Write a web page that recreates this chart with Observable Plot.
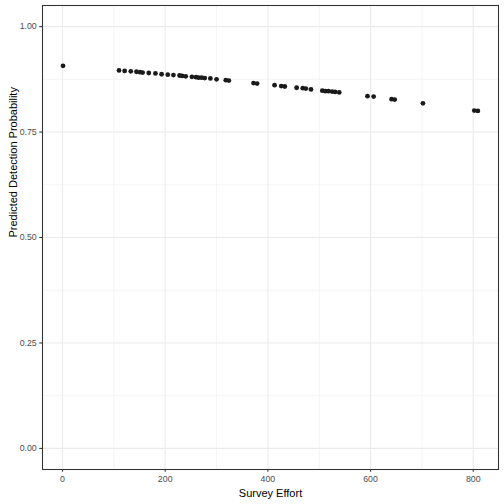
<!DOCTYPE html>
<html>
<head>
<meta charset="utf-8">
<script src="https://cdn.jsdelivr.net/npm/d3@7"></script>
<script src="https://cdn.jsdelivr.net/npm/@observablehq/plot@0.6"></script>
<style>
  html, body { margin: 0; padding: 0; background: #ffffff; }
  #chart { width: 504px; height: 504px; }
</style>
</head>
<body>
<div id="chart"></div>
<script>
const effort = [1, 110, 121, 133, 144, 151, 156, 168, 181, 193, 205, 216, 228, 233, 240, 252, 260, 265, 271, 277, 288, 300, 318, 324, 372, 379, 413, 426, 433, 456, 468, 474, 484, 506, 512, 518, 525, 531, 539, 594, 606, 641, 647, 702, 802, 809];
const prob = [0.907, 0.896, 0.895, 0.894, 0.893, 0.892, 0.891, 0.890, 0.889, 0.887, 0.886, 0.885, 0.884, 0.883, 0.882, 0.881, 0.880, 0.879, 0.879, 0.878, 0.877, 0.875, 0.873, 0.872, 0.866, 0.865, 0.861, 0.859, 0.858, 0.855, 0.854, 0.853, 0.851, 0.848, 0.847, 0.847, 0.846, 0.845, 0.844, 0.835, 0.834, 0.828, 0.827, 0.818, 0.801, 0.800];
const xTicks = [0, 200, 400, 600, 800];
const xMinor = [100, 300, 500, 700];
const yTicks = [0, 0.25, 0.5, 0.75, 1];
const yMinor = [0.125, 0.375, 0.625, 0.875];
const yTickLabels = ["0.00", "0.25", "0.50", "0.75", "1.00"];
const xTitle = "Survey Effort";
const yTitle = "Predicted Detection Probability";

const data = effort.map((e, i) => ({effort: e, prob: prob[i]}));

const chart = Plot.plot({
  width: 504,
  height: 504,
  marginLeft: 42,
  marginRight: 6,
  marginTop: 5,
  marginBottom: 35,
  style: {fontFamily: "'Liberation Sans', Arial, sans-serif", background: "#ffffff"},
  x: {domain: [-39, 849.2]},
  y: {domain: [-0.05, 1.05]},
  marks: [
    Plot.ruleX(xMinor, {stroke: "#EBEBEB", strokeWidth: 0.55}),
    Plot.ruleY(yMinor, {stroke: "#EBEBEB", strokeWidth: 0.55}),
    Plot.ruleX(xTicks, {stroke: "#EBEBEB", strokeWidth: 1.07}),
    Plot.ruleY(yTicks, {stroke: "#EBEBEB", strokeWidth: 1.07}),
    Plot.dot(data, {x: "effort", y: "prob", r: 2.4, fill: "#1a1a1a", stroke: "none"}),
    Plot.frame({stroke: "#333333", strokeWidth: 1.07}),
    Plot.axisX(xTicks, {
      anchor: "bottom", tickSize: 2.75, tickPadding: 3, fontSize: 8.8,
      stroke: "#333333", fill: "#4D4D4D", strokeWidth: 1.07, label: null
    }),
    Plot.axisY(yTicks, {
      anchor: "left", tickSize: 2.75, tickPadding: 3, fontSize: 8.8,
      stroke: "#333333", fill: "#4D4D4D", strokeWidth: 1.07,
      tickFormat: (d) => yTickLabels[yTicks.indexOf(d)], label: null
    }),
    Plot.text([xTitle], {frameAnchor: "bottom", dy: 24, fontSize: 11, fill: "#000000", lineAnchor: "middle"}),
    Plot.text([yTitle], {frameAnchor: "left", dx: -29, rotate: -90, fontSize: 11, fill: "#000000", lineAnchor: "middle"})
  ]
});
document.getElementById("chart").appendChild(chart);
</script>
</body>
</html>
